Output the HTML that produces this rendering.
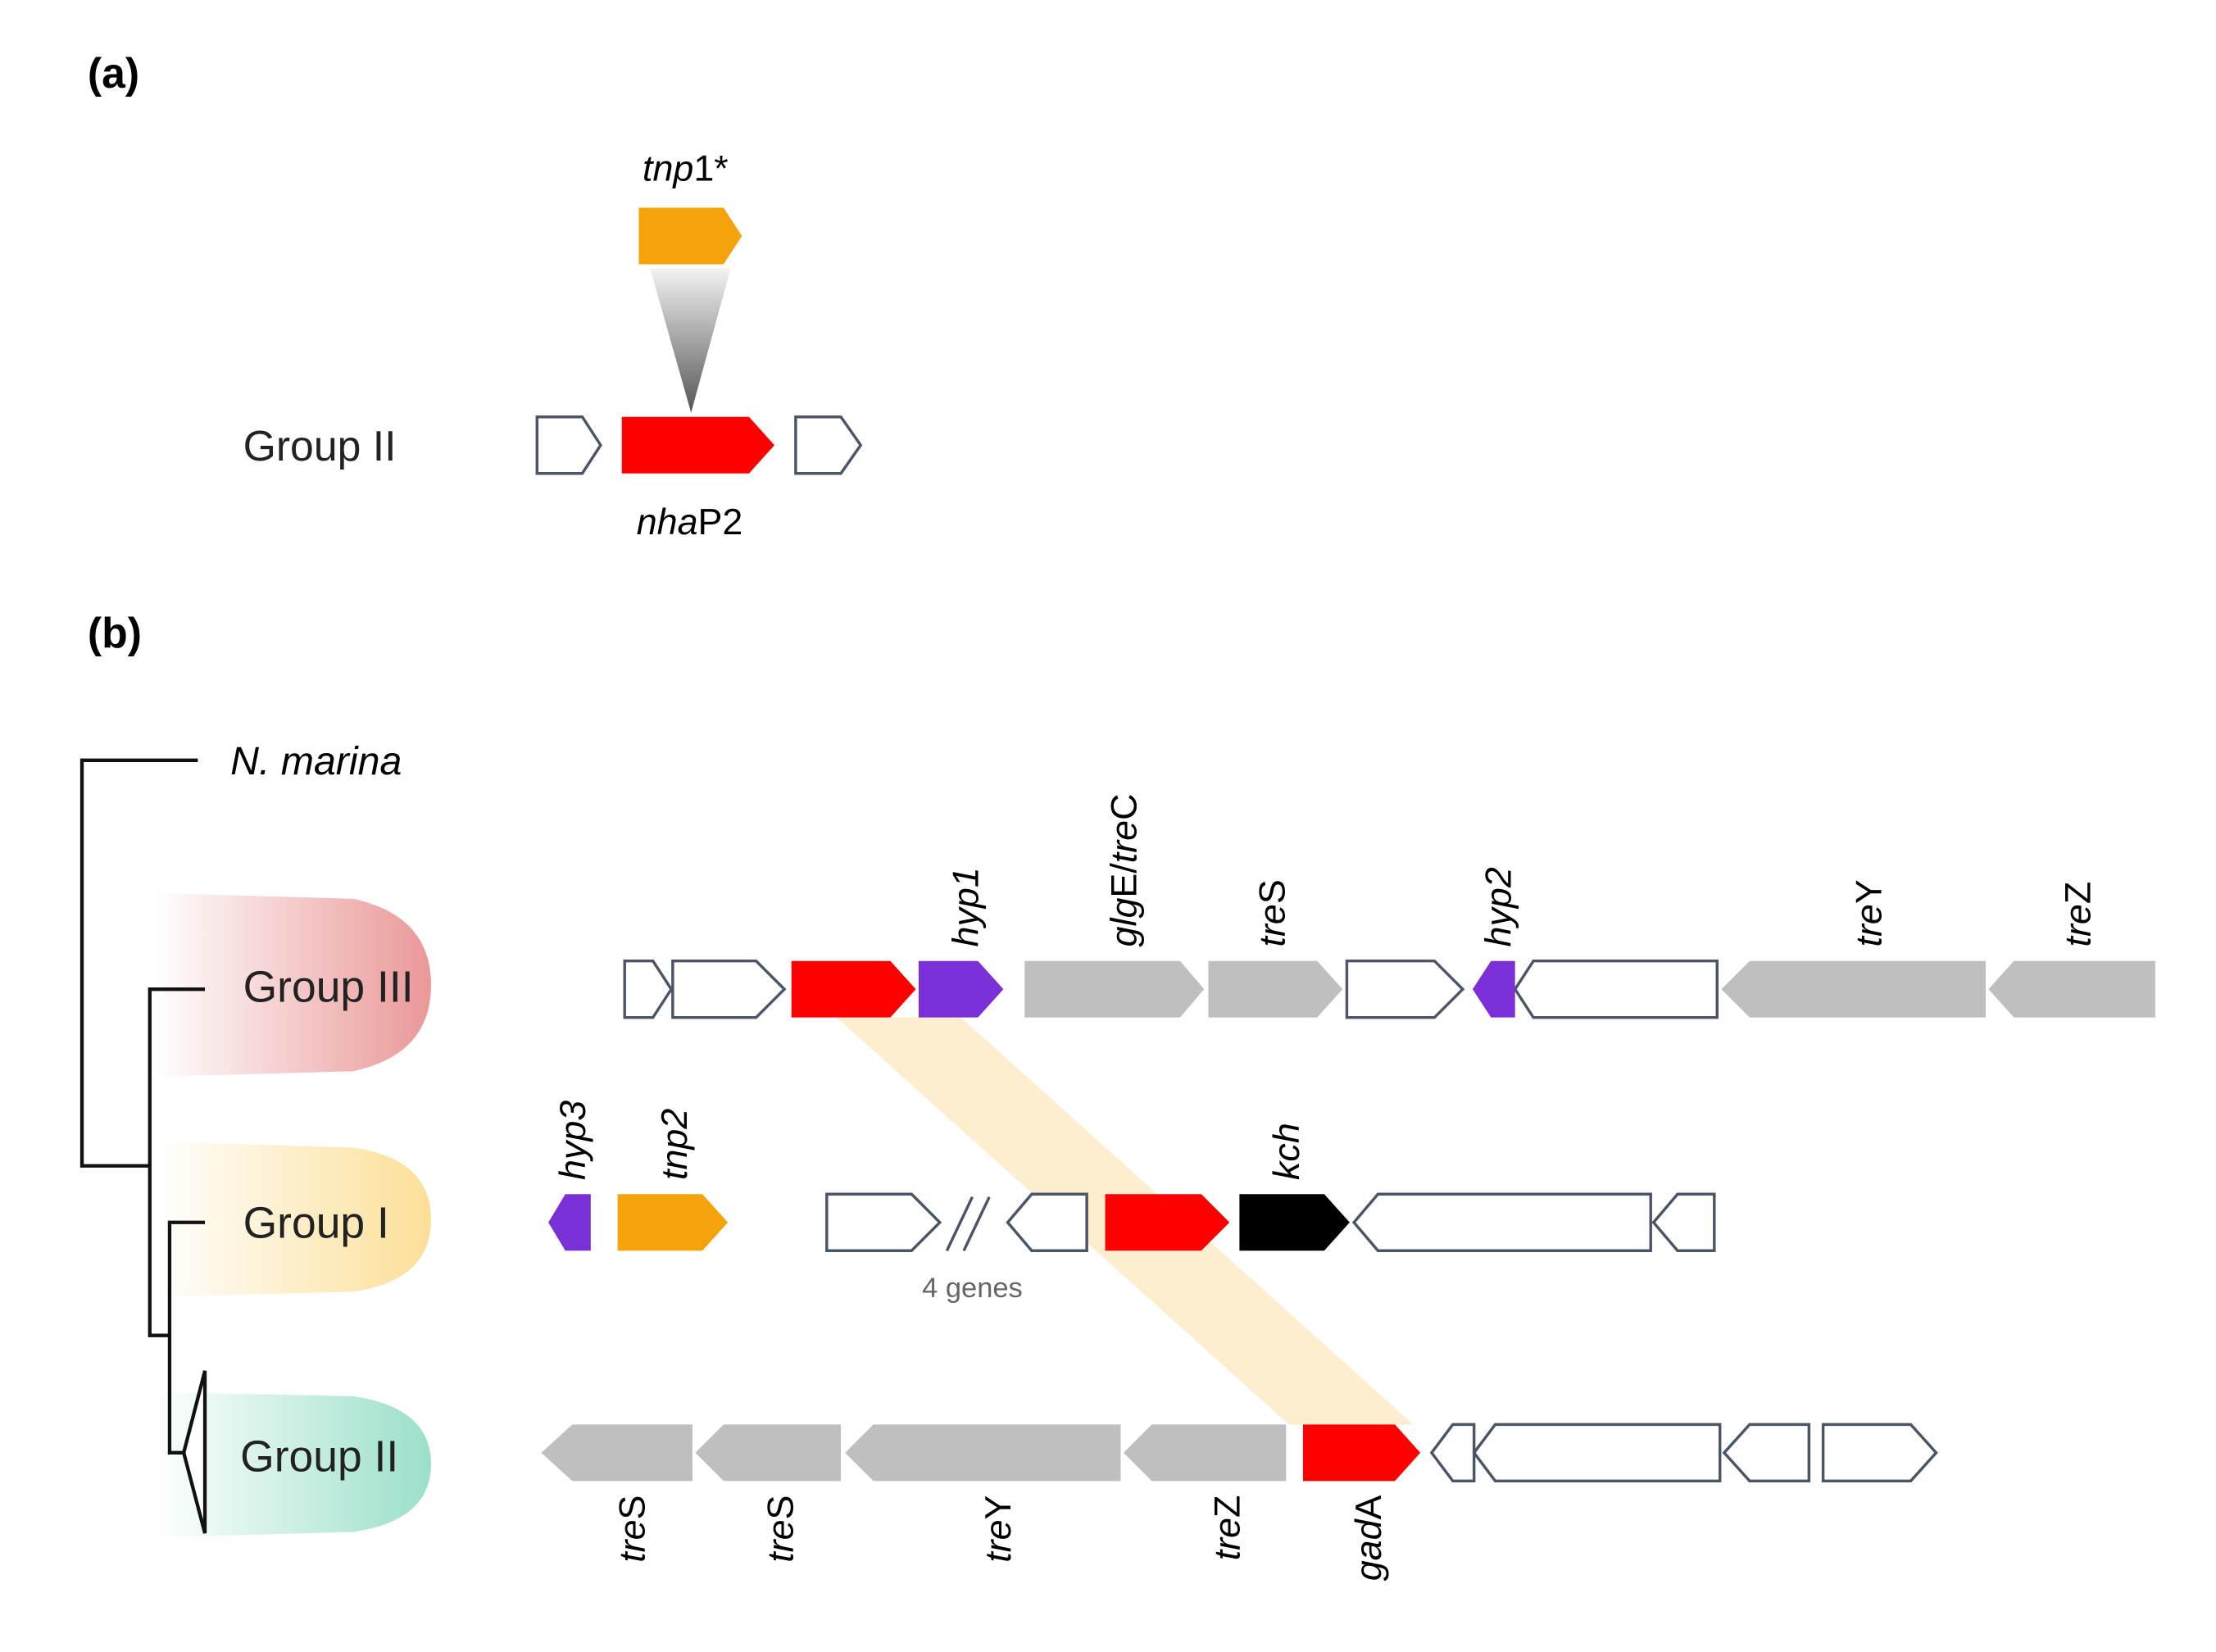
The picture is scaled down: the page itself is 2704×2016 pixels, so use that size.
<!DOCTYPE html>
<html><head><meta charset="utf-8"><style>
html,body{margin:0;padding:0;background:#fff}
svg{display:block}
text{font-family:"Liberation Sans",sans-serif}
</style></head><body>
<svg width="2704" height="2016" viewBox="0 0 1568 1169" preserveAspectRatio="none" xmlns="http://www.w3.org/2000/svg">
<defs>
<linearGradient id="tri" x1="0" y1="0" x2="0" y2="1"><stop offset="0" stop-color="#f2f2f2"/><stop offset="1" stop-color="#555"/></linearGradient>
<linearGradient id="gr" x1="0" y1="0" x2="1" y2="0"><stop offset="0" stop-color="#e88c8c" stop-opacity="0"/><stop offset="1" stop-color="#e88c8c" stop-opacity="0.9"/></linearGradient>
<linearGradient id="gy" x1="0" y1="0" x2="1" y2="0"><stop offset="0" stop-color="#fbdc8c" stop-opacity="0"/><stop offset="1" stop-color="#fbdc8c" stop-opacity="0.9"/></linearGradient>
<linearGradient id="gt" x1="0" y1="0" x2="1" y2="0"><stop offset="0" stop-color="#8fdcc4" stop-opacity="0"/><stop offset="1" stop-color="#8fdcc4" stop-opacity="0.9"/></linearGradient>
</defs>
<g font-family="Liberation Serif" font-weight="bold" font-size="30">
<text x="62" y="62" font-family="Liberation Serif">(a)</text>
<text x="62" y="458" font-family="Liberation Serif">(b)</text>
</g>
<text x="485" y="128" font-size="26" font-style="italic" text-anchor="middle">tnp<tspan font-style="normal">1*</tspan></text>
<polygon points="452,147 512,147 525,167 512,187 452,187" fill="#f5a30a"/>
<polygon points="460,190 517,190 489,292" fill="url(#tri)"/>
<text x="172" y="326" font-size="30" fill="#222">Group II</text>
<polygon points="380,295 412,295 425,315 412,335 380,335" fill="#fff" stroke="#4a5566" stroke-width="2"/>
<polygon points="440,295 530,295 548,315 530,335 440,335" fill="#f00"/>
<polygon points="563,295 595,295 609,315 595,335 563,335" fill="#fff" stroke="#4a5566" stroke-width="2"/>
<text x="488" y="378" font-size="26" text-anchor="middle"><tspan font-style="italic">nha</tspan>P2</text>
<path d="M110,632 L250,636 Q305,648 305,697 Q305,746 250,758 L110,762 Z" fill="url(#gr)"/>
<path d="M110,808 L250,812 Q305,820 305,863 Q305,906 250,914 L110,918 Z" fill="url(#gy)"/>
<path d="M110,985 L250,988 Q305,996 305,1036 Q305,1076 250,1084 L110,1088 Z" fill="url(#gt)"/>
<g stroke="#111" stroke-width="2.5" fill="none">
<path d="M140,538 H58 V825 H106"/>
<path d="M145,700 H106 V945 H120"/>
<path d="M145,865 H120 V1028 H130"/>
<polygon points="130,1028 145,970 145,1085" fill="#fff"/>
</g>
<text x="163" y="548" font-size="28" font-style="italic">N. marina</text>
<text x="172" y="709" font-size="31" fill="#222">Group III</text>
<text x="172" y="876" font-size="31" fill="#222">Group I</text>
<text x="170" y="1041" font-size="31" fill="#222">Group II</text>
<polygon points="592,720 680,720 1000,1008 912,1008" fill="#fbe3b0" opacity="0.6"/>
<g stroke="#4a5566" stroke-width="2" fill="#fff">
<polygon points="442,680 462,680 475,700 462,720 442,720"/>
<polygon points="476,680 535,680 555,700 535,720 476,720"/>
<polygon points="953,680 1015,680 1035,700 1015,720 953,720"/>
<polygon points="1072,700 1085,680 1215,680 1215,720 1085,720"/>
</g>
<polygon points="560,680 630,680 648,700 630,720 560,720" fill="#f00"/>
<polygon points="650,680 692,680 710,700 692,720 650,720" fill="#7b2fd6"/>
<polygon points="725,680 835,680 852,700 835,720 725,720" fill="#bfbfbf"/>
<polygon points="855,680 932,680 950,700 932,720 855,720" fill="#bfbfbf"/>
<polygon points="1042,700 1055,680 1072,680 1072,720 1055,720" fill="#7b2fd6"/>
<polygon points="1218,700 1238,680 1405,680 1405,720 1238,720" fill="#bfbfbf"/>
<polygon points="1407,700 1425,680 1525,680 1525,720 1425,720" fill="#bfbfbf"/>
<g font-size="26" font-style="italic">
<text transform="translate(692,670) rotate(-90)">hyp1</text>
<text transform="translate(804,670) rotate(-90)">glg<tspan font-style="normal">E/</tspan>tre<tspan font-style="normal">C</tspan></text>
<text transform="translate(909,670) rotate(-90)">tre<tspan font-style="normal">S</tspan></text>
<text transform="translate(1069,670) rotate(-90)">hyp2</text>
<text transform="translate(1331,670) rotate(-90)">tre<tspan font-style="normal">Y</tspan></text>
<text transform="translate(1479,670) rotate(-90)">tre<tspan font-style="normal">Z</tspan></text>
<text transform="translate(414,835) rotate(-90)">hyp3</text>
<text transform="translate(486,835) rotate(-90)">tnp2</text>
<text transform="translate(919,835) rotate(-90)">kch</text>
<text transform="translate(456,1058) rotate(-90)" text-anchor="end">tre<tspan font-style="normal">S</tspan></text>
<text transform="translate(561,1058) rotate(-90)" text-anchor="end">tre<tspan font-style="normal">S</tspan></text>
<text transform="translate(715,1058) rotate(-90)" text-anchor="end">tre<tspan font-style="normal">Y</tspan></text>
<text transform="translate(877,1058) rotate(-90)" text-anchor="end">tre<tspan font-style="normal">Z</tspan></text>
<text transform="translate(977,1058) rotate(-90)" text-anchor="end">gad<tspan font-style="normal">A</tspan></text>
</g>
<polygon points="388,865 400,845 418,845 418,885 400,885" fill="#7b2fd6"/>
<polygon points="437,845 497,845 515,865 497,885 437,885" fill="#f5a30a"/>
<g stroke="#4a5566" stroke-width="2" fill="#fff">
<polygon points="585,845 645,845 665,865 645,885 585,885"/>
<polygon points="713,865 730,845 769,845 769,885 730,885"/>
<polygon points="958,865 975,845 1168,845 1168,885 975,885"/>
<polygon points="1170,865 1187,845 1213,845 1213,885 1187,885"/>
<line x1="670" y1="885" x2="688" y2="847"/>
<line x1="682" y1="885" x2="700" y2="847"/>
</g>
<polygon points="782,845 850,845 870,865 850,885 782,885" fill="#f00"/>
<polygon points="877,845 937,845 955,865 937,885 877,885" fill="#000"/>
<text x="688" y="918" font-size="20" fill="#666" text-anchor="middle">4 genes</text>
<polygon points="383,1028 405,1008 490,1008 490,1048 405,1048" fill="#bfbfbf"/>
<polygon points="492,1028 512,1008 595,1008 595,1048 512,1048" fill="#bfbfbf"/>
<polygon points="598,1028 618,1008 793,1008 793,1048 618,1048" fill="#bfbfbf"/>
<polygon points="795,1028 815,1008 910,1008 910,1048 815,1048" fill="#bfbfbf"/>
<polygon points="922,1008 987,1008 1005,1028 987,1048 922,1048" fill="#f00"/>
<g stroke="#4a5566" stroke-width="2" fill="#fff">
<polygon points="1013,1028 1028,1008 1043,1008 1043,1048 1028,1048"/>
<polygon points="1043,1028 1058,1008 1217,1008 1217,1048 1058,1048"/>
<polygon points="1220,1028 1238,1008 1280,1008 1280,1048 1238,1048"/>
<polygon points="1290,1008 1352,1008 1370,1028 1352,1048 1290,1048"/>
</g>
</svg>
</body></html>
